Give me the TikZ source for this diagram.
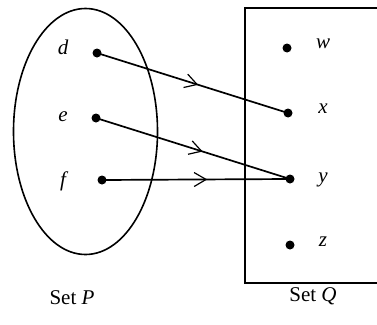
\documentclass[tikz,border=0pt]{standalone}
\usepackage{fontspec}
\setmainfont{Liberation Serif}
\usetikzlibrary{arrows.meta,decorations.markings}
\tikzset{
  dotnode/.style={circle,fill=black,inner sep=0pt,minimum size=9pt},
  lbl/.style={font=\fontsize{21}{23}\selectfont\itshape},
  setcaption/.style={font=\fontsize{21}{23}\selectfont},
  mapline/.style={line width=1.7pt,shorten <=-1pt,shorten >=-1pt,
    decoration={markings,mark=at position #1 with {\arrow{Straight Barb[length=12pt,width=14pt,line width=1.2pt]}}},
    postaction={decorate}},
  frame/.style={line width=1.6pt}
}
\begin{document}
\begin{tikzpicture}[x=1pt,y=-1pt]
\useasboundingbox (0,0) rectangle (377,324);
\draw[frame] (85.5,131.5) ellipse [x radius=72, y radius=123];
\draw[frame] (377,8) -- (245,8) -- (245,283) -- (377,283);
\node[dotnode] (d) at (97,53) {};
\node[dotnode] (e) at (96,118) {};
\node[dotnode] (f) at (102,180) {};
\node[dotnode] (w) at (287,48) {};
\node[dotnode] (x) at (288,113) {};
\node[dotnode] (y) at (290,179) {};
\node[dotnode] (z) at (290,245) {};
\node[lbl] (ld) at (63,47) {d};
\node[lbl] (le) at (63,117) {e};
\node[lbl] (lf) at (63,181) {f};
\node[lbl] (lw) at (323,44) {w};
\node[lbl] (lx) at (323,109) {x};
\node[lbl] (ly) at (323,180) {y};
\node[lbl] (lz) at (323,242) {z};
\node[setcaption] (sp) at (72,298) {Set \textit{P}};
\node[setcaption] (sq) at (313,296) {Set \textit{Q}};
\draw[mapline=0.53] (d.center) -- (x.center);
\draw[mapline=0.55] (e.center) -- (y.center);
\draw[mapline=0.56] (f.center) -- (y.center);
\end{tikzpicture}
\end{document}
